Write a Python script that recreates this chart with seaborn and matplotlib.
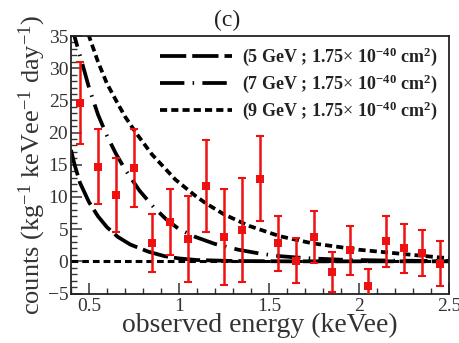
import numpy as np
import pandas as pd
import matplotlib
matplotlib.use("Agg")
import matplotlib.pyplot as plt
from matplotlib.ticker import MultipleLocator
import seaborn as sns

# ---- data ----
energy = [0.45, 0.55, 0.65, 0.75, 0.85, 0.95, 1.05, 1.15, 1.25, 1.35, 1.45,
          1.55, 1.65, 1.75, 1.85, 1.95, 2.05, 2.15, 2.25, 2.35, 2.45]
counts = [24.6, 14.7, 10.3, 14.5, 2.9, 6.1, 3.5, 11.7, 3.8, 4.9, 12.8,
          2.8, 0.1, 3.8, -1.6, 1.7, -3.8, 3.1, 2.0, 1.3, -0.4]
errors = [6.4, 5.8, 5.8, 6.1, 4.5, 5.1, 6.7, 7.2, 7.5, 8.1, 6.6,
          4.3, 3.5, 4.0, 3.1, 3.8, 2.6, 4.0, 3.8, 3.6, 3.5]

x_5gev = [0.40, 0.42, 0.45, 0.50, 0.55, 0.60, 0.66, 0.73, 0.83, 0.92, 1.00, 1.10, 1.30, 1.60, 2.00, 2.50]
y_5gev = [17.3, 15.0, 12.2, 9.2, 7.0, 5.3, 3.8, 2.6, 1.5, 0.8, 0.45, 0.2, 0.05, 0.0, 0.0, 0.0]

x_7gev = [0.40, 0.42, 0.46, 0.50, 0.55, 0.60, 0.65, 0.70, 0.78, 0.86, 0.93, 1.00, 1.09, 1.20, 1.33, 1.45, 1.56, 1.70, 1.90, 2.20, 2.50]
y_7gev = [37.0, 34.9, 31.0, 27.0, 22.8, 19.5, 16.7, 14.3, 11.0, 8.4, 6.5, 5.0, 3.8, 2.7, 1.8, 1.2, 0.8, 0.5, 0.25, 0.1, 0.05]

x_9gev = [0.48, 0.50, 0.55, 0.60, 0.66, 0.70, 0.76, 0.85, 0.92, 0.98, 1.09, 1.15, 1.25, 1.39, 1.56, 1.74, 2.00, 2.26, 2.45, 2.50]
y_9gev = [37.0, 35.0, 31.0, 27.6, 24.5, 22.5, 20.0, 16.6, 14.5, 12.7, 10.2, 9.0, 7.3, 5.5, 3.9, 2.8, 1.8, 1.1, 0.6, 0.5]

labels = [r"(5 GeV ; 1.75$\times$ 10$^{\mathbf{-40}}$ cm$^{\mathbf{2}}$)",
          r"(7 GeV ; 1.75$\times$ 10$^{\mathbf{-40}}$ cm$^{\mathbf{2}}$)",
          r"(9 GeV ; 1.75$\times$ 10$^{\mathbf{-40}}$ cm$^{\mathbf{2}}$)"]

x_ticks = [0.5, 1.0, 1.5, 2.0, 2.5]
x_ticklabels = ["0.5", "1", "1.5", "2", "2.5"]
y_ticks = [-5, 0, 5, 10, 15, 20, 25, 30, 35]

# ---- style ----
sns.set_style("ticks")
plt.rcParams["font.family"] = ["Liberation Serif", "DejaVu Serif"]
plt.rcParams["mathtext.fontset"] = "custom"
plt.rcParams["mathtext.rm"] = "Liberation Serif"
plt.rcParams["mathtext.it"] = "Liberation Serif:italic"
plt.rcParams["mathtext.bf"] = "Liberation Serif:bold"

fig = plt.figure(figsize=(4.6, 3.43), dpi=100)
ax = fig.add_axes([0.1543, 0.1443, 0.8217, 0.7507])

lw = 2.7
curves = [(x_5gev, y_5gev, (7.0, 1.6)),
          (x_7gev, y_7gev, (6.5, 2.2, 0.4, 2.2)),
          (x_9gev, y_9gev, (1.9, 1.1))]
for (xs, ys, dash), lab in zip(curves, labels):
    df = pd.DataFrame({"x": xs, "y": ys})
    sns.lineplot(data=df, x="x", y="y", ax=ax, color="black", lw=lw,
                 estimator=None, sort=False, label=lab)
    ax.lines[-1].set_dashes(dash)
    ax.lines[-1].set_dash_capstyle("butt")

ax.axhline(0, color="black", lw=2.2, dashes=(2.2, 1.3), zorder=1.5)

red = "#ee1111"
ax.errorbar(energy, counts, yerr=errors, fmt="none", ecolor=red,
            elinewidth=1.8, capsize=2.6, capthick=1.5, zorder=3)
sns.scatterplot(x=energy, y=counts, ax=ax, marker="s", s=38, color=red,
                edgecolor=red, linewidth=0, zorder=4)

ax.set_xlim(0.4, 2.5)
ax.set_ylim(-5, 35)
ax.set_xticks(x_ticks)
ax.set_xticklabels(x_ticklabels)
ax.set_yticks(y_ticks)
ax.xaxis.set_minor_locator(MultipleLocator(0.1))
ax.yaxis.set_minor_locator(MultipleLocator(1))
ax.tick_params(axis="both", which="major", direction="in", length=8,
               width=1.1, labelsize=14, color="#333333", labelcolor="#333333")
ax.tick_params(axis="both", which="minor", direction="in", length=4.5,
               width=1.0, color="#333333")
ax.tick_params(axis="y", which="both", right=False, pad=2)
ax.tick_params(axis="x", which="both", top=False, pad=3)
for sp in ax.spines.values():
    sp.set_linewidth(1.3)
    sp.set_color("#222222")

ax.set_xlabel("observed energy (keVee)", fontsize=20, color="#333333", labelpad=-1)
ax.set_ylabel(r"counts (kg$^{-1}$ keVee$^{-1}$ day$^{-1}$)", fontsize=19,
              color="#333333", labelpad=0)

leg = ax.legend(loc="upper left", bbox_to_anchor=(0.2354, 0.962), frameon=False,
                prop={"weight": "bold", "size": 13}, handlelength=4.0,
                handletextpad=0.55, labelspacing=0.25, borderpad=0,
                borderaxespad=0)
for t in leg.get_texts():
    t.set_color("#222222")

fig.text(0.493, 0.94, "(c)", ha="center", va="center", fontsize=17, color="#222222")

fig.savefig("out.png", dpi=100)
